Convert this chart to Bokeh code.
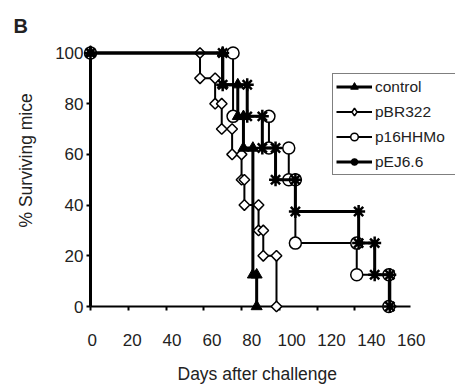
import math
from bokeh.plotting import figure
from bokeh.models import (Range1d, LinearAxis, FixedTicker, Legend, LegendItem, Title)
from bokeh.embed import file_html
from bokeh.resources import INLINE

# ---- data (days of death events, % surviving after each event) ----
control_days = [0, 70, 78, 81, 86, 88]
control_surv = [100, 87.5, 75, 62.5, 12.5, 0]

pbr_days = [0, 58, 66, 69.5, 75, 80, 81.5, 89, 91.5, 98.5]
pbr_surv = [100, 90, 80, 70, 60, 50, 40, 30, 20, 0]

p16_days = [0, 75.5, 94.5, 105, 108.5, 141, 158]
p16_surv = [100, 75, 62.5, 50, 25, 12.5, 0]

pej_days = [0, 70, 83, 91, 98, 108.5, 142, 150.5, 158.5]
pej_surv = [100, 87.5, 75, 62.5, 50, 37.5, 25, 12.5, 0]

x_ticks = [0, 20, 40, 60, 80, 100, 120, 140, 160]
y_ticks = [0, 20, 40, 60, 80, 100]

FONT = "Liberation Sans"
TXT = "#222222"

p = figure(width=455, height=385, output_backend="svg", toolbar_location=None,
           x_range=Range1d(0, 193.3), y_range=Range1d(0, 106.5),
           min_border_left=90, min_border_right=0, min_border_top=36,
           min_border_bottom=79)
p.outline_line_color = None
p.xgrid.visible = False
p.ygrid.visible = False
p.extra_x_ranges = {"lab": Range1d(-0.9, 182.2)}

# panel letter
p.title.text = "B"
p.title.align = "left"
p.title.offset = -77
p.title.standoff = 0
p.title.text_font = FONT
p.title.text_font_size = "20px"
p.title.text_font_style = "bold"
p.title.text_color = TXT

# x axis: ticks on the data scale, labels on their own axis
xa = p.xaxis[0]
xa.ticker = FixedTicker(ticks=x_ticks)
xa.bounds = (0, 169.5)
xa.axis_line_width = 2
xa.major_tick_out = 4
xa.major_tick_in = 0
xa.major_tick_line_width = 2
xa.minor_tick_line_color = None
xa.major_label_text_color = None
xa.major_label_standoff = 0

xl = LinearAxis(x_range_name="lab", ticker=FixedTicker(ticks=x_ticks))
xl.axis_line_color = None
xl.major_tick_line_color = None
xl.minor_tick_line_color = None
xl.major_tick_out = 0
xl.major_tick_in = 0
xl.major_label_standoff = 23
xl.major_label_text_font = FONT
xl.major_label_text_font_size = "17px"
xl.major_label_text_color = TXT
p.add_layout(xl, "below")

# empty spacer between tick labels and the axis title
sp = LinearAxis(ticker=FixedTicker(ticks=[0]))
sp.axis_line_color = None
sp.major_tick_line_color = None
sp.minor_tick_line_color = None
sp.major_label_text_color = None
sp.major_tick_out = 15
sp.major_tick_in = 0
sp.major_label_standoff = 0
p.add_layout(sp, "below")

p.add_layout(Title(text="Days after challenge", align="left", offset=87,
                   vertical_align="top", standoff=0, text_font=FONT,
                   text_font_size="17.5px", text_font_style="normal",
                   text_color=TXT), "below")

ya = p.yaxis[0]
ya.ticker = FixedTicker(ticks=y_ticks)
ya.bounds = (0, 100)
ya.axis_line_width = 3
ya.major_tick_out = 4
ya.major_tick_in = 0
ya.major_tick_line_width = 2
ya.minor_tick_line_color = None
ya.major_label_standoff = 3
ya.major_label_text_font = FONT
ya.major_label_text_font_size = "17px"
ya.major_label_text_color = TXT

p.add_layout(Title(text="% Surviving mice", align="left", offset=79,
                   vertical_align="top", standoff=30, text_font=FONT,
                   text_font_size="17.5px", text_font_style="normal",
                   text_color=TXT), "left")


def vertices(days, surv):
    xs, ys = [days[0]], [surv[0]]
    for i in range(1, len(days)):
        xs += [days[i], days[i]]
        ys += [surv[i - 1], surv[i]]
    return xs, ys


# (name, days, surv, line width, marker for later vertices, marker for day-0 vertex / legend)
series = [
    ("pBR322", pbr_days, pbr_surv, 2,
     dict(marker="square", angle=math.pi / 4, size=7.5, fill_color="white",
          line_color="black", line_width=1.5),
     dict(marker="diamond", size=14, fill_color="white", line_color="black", line_width=1.5)),
    ("p16HHMo", p16_days, p16_surv, 2,
     dict(marker="circle", size=12, fill_color="white", line_color="black", line_width=1.5),
     None),
    ("pEJ6.6", pej_days, pej_surv, 3,
     dict(marker="asterisk", size=13, line_color="black", line_width=2.5),
     None),
    ("control", control_days, control_surv, 3,
     dict(marker="triangle", size=11, fill_color="black", line_color="black", line_width=1),
     None),
]

items = {}
for name, d, s, lw, mk, legmk in series:
    lr = p.step(d, s, mode="after", line_color="black", line_width=lw, level="overlay")
    vx, vy = vertices(d, s)
    if legmk is None:
        sr = p.scatter(vx, vy, level="overlay", **mk)
    else:
        p.scatter(vx[1:], vy[1:], level="overlay", **mk)
        sr = p.scatter(vx[:1], vy[:1], level="overlay", **legmk)
    items[name] = LegendItem(label=name, renderers=[lr, sr])

legend = Legend(items=[items[k] for k in ["control", "pBR322", "p16HHMo", "pEJ6.6"]],
                location=(242, 131))
legend.border_line_color = "black"
legend.border_line_width = 1.5
legend.background_fill_color = "white"
legend.background_fill_alpha = 1
legend.padding = 3
legend.spacing = 6
legend.margin = 0
legend.glyph_height = 19
legend.label_height = 19
legend.glyph_width = 36
legend.label_standoff = 3
legend.label_width = 80
legend.label_text_font = FONT
legend.label_text_font_size = "15.5px"
legend.label_text_color = TXT
p.add_layout(legend, "center")

open("out.html", "w").write(file_html(p, INLINE))
